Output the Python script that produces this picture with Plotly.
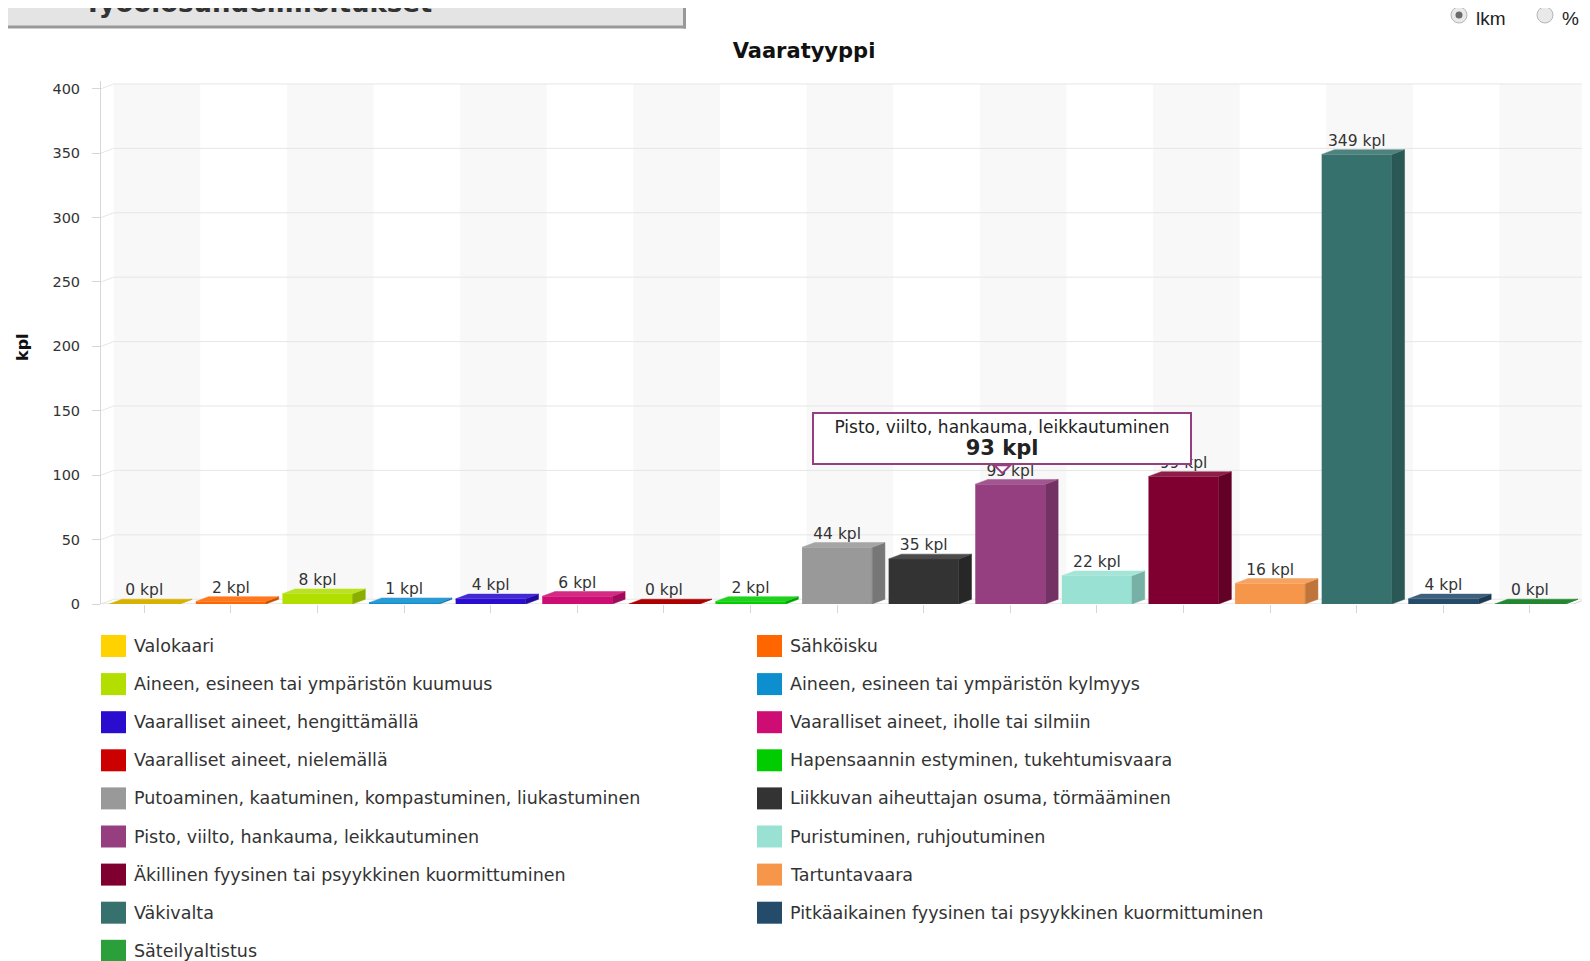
import plotly.graph_objects as go

# ---------------- data ----------------
categories = [
    "Valokaari",
    "Sähköisku",
    "Aineen, esineen tai ympäristön kuumuus",
    "Aineen, esineen tai ympäristön kylmyys",
    "Vaaralliset aineet, hengittämällä",
    "Vaaralliset aineet, iholle tai silmiin",
    "Vaaralliset aineet, nielemällä",
    "Hapensaannin estyminen, tukehtumisvaara",
    "Putoaminen, kaatuminen, kompastuminen, liukastuminen",
    "Liikkuvan aiheuttajan osuma, törmääminen",
    "Pisto, viilto, hankauma, leikkautuminen",
    "Puristuminen, ruhjoutuminen",
    "Äkillinen fyysinen tai psyykkinen kuormittuminen",
    "Tartuntavaara",
    "Väkivalta",
    "Pitkäaikainen fyysinen tai psyykkinen kuormittuminen",
    "Säteilyaltistus",
]
values = [0, 2, 8, 1, 4, 6, 0, 2, 44, 35, 93, 22, 99, 16, 349, 4, 0]
colors = [
    "#FFD200", "#FF6600", "#B2DF00", "#0D8ECF", "#2A0CCF", "#CD0D74",
    "#CC0000", "#00CC00", "#999999", "#333333", "#953F80", "#99E2D3",
    "#7F0030", "#F6964B", "#36716D", "#254B6B", "#2A9F3A",
]
tick_values = [0, 50, 100, 150, 200, 250, 300, 350, 400]
unit = "kpl"
title_text = "Vaaratyyppi"
tooltip_category = "Pisto, viilto, hankauma, leikkautuminen"
header_text = "Työolosuhdeilmoitukset"
radio_labels = ["lkm", "%"]

# ---------------- layout geometry ----------------
OFF = 8                      # page body margin of the html page
W, H = 1590 - OFF, 961 - OFF


def s(p):
    """screen pixel -> figure pixel"""
    return p - OFF


PL, PR, PT, PB = s(101), s(1586), s(81), s(604)   # plot area in figure pixels
n = len(categories)
DX = 0.147      # 3D depth (x units)
DY = 3.7        # 3D depth (y units)
BAR_W = 0.81
Y_MAX = 406
FONT = "DejaVu Sans"
TXT = "#333333"


def px_x(p):
    return (s(p) - PL) / (PR - PL)


def px_y(p):
    return (PB - s(p)) / (PB - PT)


def shade(hexcol, f):
    h = hexcol.lstrip("#")
    r, g, b = int(h[0:2], 16), int(h[2:4], 16), int(h[4:6], 16)
    if f < 0:
        r, g, b = [int(c * (1 + f)) for c in (r, g, b)]
    else:
        r, g, b = [int(c + (255 - c) * f) for c in (r, g, b)]
    return "rgb(%d,%d,%d)" % (r, g, b)


fig = go.Figure()
shapes = []
annotations = []

# back wall alternating bands
for i in range(n):
    if i % 2 == 0:
        shapes.append(dict(type="rect", xref="x", yref="y", layer="below",
                           x0=i - 0.5 + DX, x1=i + 0.5 + DX, y0=DY, y1=tick_values[-1] + DY,
                           fillcolor="#f8f8f8", line=dict(width=0)))
# back wall gridlines with side-wall diagonal
for v in tick_values:
    shapes.append(dict(type="path", xref="x", yref="y", layer="below",
                       path="M %f,%f L %f,%f L %f,%f" % (-0.5, v, -0.5 + DX, v + DY, n - 0.5 + DX, v + DY),
                       line=dict(color="#e6e6e6", width=1)))
# x-axis (floor front edge) and right floor edge
shapes.append(dict(type="line", xref="x", yref="y", layer="below",
                   x0=-0.5, x1=n - 0.5, y0=0, y1=0, line=dict(color="#d6d6d6", width=1)))
shapes.append(dict(type="line", xref="x", yref="y", layer="below",
                   x0=n - 0.5, x1=n - 0.5 + DX, y0=0, y1=DY, line=dict(color="#d6d6d6", width=1)))

# bars: front face + side + top
for i, (cat, v, c) in enumerate(zip(categories, values, colors)):
    fig.add_trace(go.Bar(x=[i], y=[v], width=[BAR_W], name=cat, marker=dict(color=c, line=dict(width=0)),
                         showlegend=False, hoverinfo="skip"))
    xl, xr = i - BAR_W / 2, i + BAR_W / 2
    side = shade(c, -0.22)
    top = shade(c, 0.12 if v > 0 else -0.15)
    fig.add_trace(go.Scatter(x=[xr, xr + DX, xr + DX, xr, xr], y=[0, DY, v + DY, v, 0],
                             mode="lines", fill="toself", fillcolor=side,
                             line=dict(width=0.5, color=side), showlegend=False, hoverinfo="skip"))
    fig.add_trace(go.Scatter(x=[xl, xl + DX, xr + DX, xr, xl], y=[v, v + DY, v + DY, v, v],
                             mode="lines", fill="toself", fillcolor=top,
                             line=dict(width=0.5, color=top), showlegend=False, hoverinfo="skip"))

# data labels
fig.add_trace(go.Scatter(x=list(range(n)), y=[v + DY for v in values], mode="text",
                         text=["%d %s" % (v, unit) for v in values], textposition="top center",
                         textfont=dict(family=FONT, size=15.5, color=TXT), cliponaxis=False,
                         showlegend=False, hoverinfo="skip"))

# manual legend (two columns)
ROW0, ROWSTEP = 646, 38.1
COLX = [101, 757]
for i, (cat, c) in enumerate(zip(categories, colors)):
    row, col = divmod(i, 2)
    cy = ROW0 + row * ROWSTEP
    x0 = COLX[col]
    shapes.append(dict(type="rect", xref="paper", yref="paper", layer="above",
                       x0=px_x(x0), x1=px_x(x0 + 25), y0=px_y(cy + 11), y1=px_y(cy - 11),
                       fillcolor=c, line=dict(width=0)))
    annotations.append(dict(xref="paper", yref="paper", x=px_x(x0 + 31), y=px_y(cy),
                            xanchor="left", yanchor="middle", showarrow=False, text=cat,
                            font=dict(family=FONT, size=17.5, color=TXT)))

# tooltip
ti = categories.index(tooltip_category)
shapes.append(dict(type="path", xref="x", yref="y", layer="above",
                   xsizemode="pixel", ysizemode="pixel", xanchor=ti, yanchor=values[ti],
                   path="M -16,19 L -8,11 L 0,19 Z", fillcolor="white",
                   line=dict(color=colors[ti], width=2)))
annotations.append(dict(xref="x", yref="y", x=ti, y=values[ti], xshift=-8, yshift=19,
                        xanchor="center", yanchor="bottom", showarrow=False,
                        text="%s<br><span style='font-size:21px'><b>%d %s</b></span>" % (categories[ti], values[ti], unit),
                        font=dict(family=FONT, size=17, color="#222"), bgcolor="white",
                        bordercolor=colors[ti], borderwidth=2, borderpad=2, width=372, height=45))

# y-axis title
annotations.append(dict(xref="paper", yref="paper", x=px_x(23), y=px_y(347), showarrow=False,
                        text="<b>%s</b>" % unit, textangle=-90, xanchor="center", yanchor="middle",
                        font=dict(family=FONT, size=16, color="#111")))

# header bar (cut-off panel at the top-left)
shapes.append(dict(type="rect", xref="paper", yref="paper", layer="above",
                   x0=px_x(-5), x1=px_x(685), y0=px_y(28), y1=px_y(-10),
                   fillcolor="#e4e4e4", line=dict(width=0)))
shapes.append(dict(type="line", xref="paper", yref="paper", layer="above",
                   x0=px_x(0), x1=px_x(686), y0=px_y(27), y1=px_y(27), line=dict(color="#999", width=3)))
shapes.append(dict(type="line", xref="paper", yref="paper", layer="above",
                   x0=px_x(684.5), x1=px_x(684.5), y0=px_y(-5), y1=px_y(28.5), line=dict(color="#999", width=3)))
annotations.append(dict(xref="paper", yref="paper", x=px_x(83), y=px_y(19), xanchor="left",
                        yanchor="bottom", showarrow=False, borderpad=0,
                        text="<b>%s</b>" % header_text, font=dict(family=FONT, size=26, color="#333")))

# radio buttons
radio_cx = [1459, 1545]
for k, (cx, lab) in enumerate(zip(radio_cx, radio_labels)):
    r = 8
    shapes.append(dict(type="circle", xref="paper", yref="paper", layer="above",
                       x0=px_x(cx - r), x1=px_x(cx + r), y0=px_y(15 + r), y1=px_y(15 - r),
                       fillcolor="#e9e9e9", line=dict(color="#b5b5b5", width=1)))
    if k == 0:
        shapes.append(dict(type="circle", xref="paper", yref="paper", layer="above",
                           x0=px_x(cx - 3.5), x1=px_x(cx + 3.5), y0=px_y(15 + 3.5), y1=px_y(15 - 3.5),
                           fillcolor="#6a6a6a", line=dict(width=0)))
    annotations.append(dict(xref="paper", yref="paper", x=px_x(cx + 15), y=px_y(18.5), xanchor="left",
                            yanchor="middle", showarrow=False, text=lab,
                            font=dict(family="Liberation Sans", size=19, color="#222")))

fig.update_layout(
    width=W, height=H,
    margin=dict(l=PL, r=W - PR, t=PT, b=H - PB),
    paper_bgcolor="white", plot_bgcolor="white",
    barmode="overlay",
    showlegend=False,
    title=dict(text="<b>%s</b>" % title_text, x=px_x(804), xref="paper", xanchor="center",
               y=1 - s(51) / H, yref="container", yanchor="middle",
               font=dict(family=FONT, size=21, color="#111")),
    xaxis=dict(range=[-0.5, n - 0.5 + DX], showgrid=False, zeroline=False, showline=False,
               tickmode="array", tickvals=list(range(n)), ticktext=[""] * n,
               ticks="outside", ticklen=8, tickcolor="#d6d6d6", showticklabels=False, fixedrange=True),
    yaxis=dict(range=[0, Y_MAX], showgrid=False, zeroline=False, showline=True, linecolor="#d6d6d6",
               tickmode="array", tickvals=tick_values, ticks="outside", ticklen=8, tickcolor="#d6d6d6",
               ticklabelstandoff=9, tickfont=dict(family=FONT, size=14.5, color=TXT), fixedrange=True),
    shapes=shapes,
    annotations=annotations,
    font=dict(family=FONT, color=TXT),
)

fig.write_html("out.html")
